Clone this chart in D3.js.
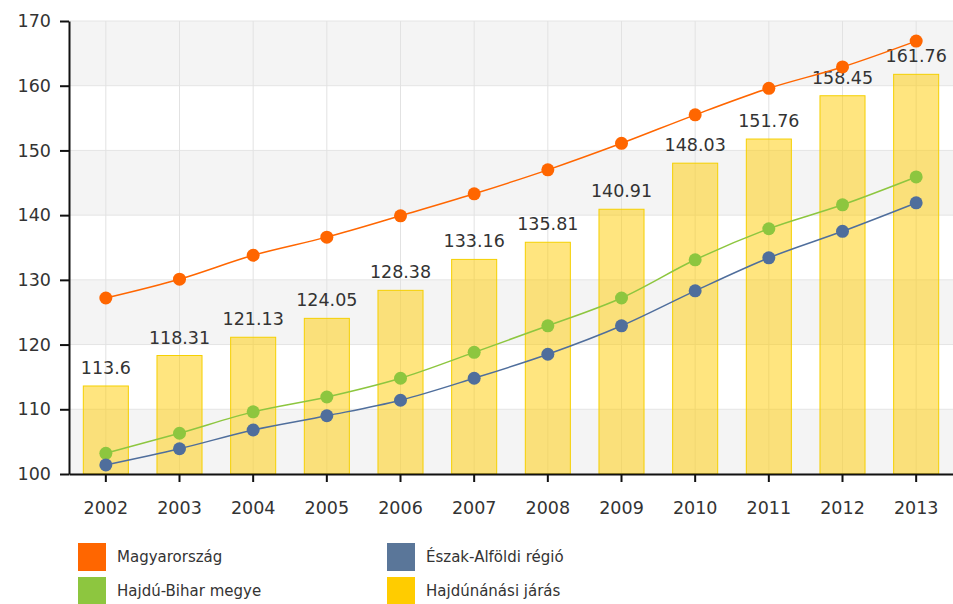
<!DOCTYPE html>
<html>
<head>
<meta charset="utf-8">
<script src="https://cdn.jsdelivr.net/npm/d3@7"></script>
<style>
  html, body { margin: 0; padding: 0; background: #fff; }
  svg { display: block; font-family: "DejaVu Sans", Verdana, sans-serif; }
</style>
</head>
<body>
<svg id="chart" width="953" height="604"></svg>
<script>
const years = ["2002","2003","2004","2005","2006","2007","2008","2009","2010","2011","2012","2013"];
const magyarorszag = [127.2,130.1,133.8,136.6,139.9,143.3,147.0,151.1,155.5,159.6,162.9,166.9];
const hajduBihar = [103.2,106.3,109.6,111.9,114.8,118.8,122.9,127.2,133.1,137.9,141.6,145.9];
const eszakAlfold = [101.4,103.9,106.8,109.0,111.4,114.8,118.5,122.9,128.3,133.4,137.5,141.9];
const hajdunanas = [113.6,118.31,121.13,124.05,128.38,133.16,135.81,140.91,148.03,151.76,158.45,161.76];
const yTicks = [100,110,120,130,140,150,160,170];
const seriesNames = ["Magyarország","Észak-Alföldi régió","Hajdú-Bihar megye","Hajdúnánási járás"];
const seriesColors = ["#ff6600","#5a7699","#8dc63f","#ffcc00"];

const svg = d3.select("#chart");
const m = {left: 69, right: 953, top: 21, bottom: 474};

const x = d3.scaleBand().domain(years).range([m.left, m.right])
  .paddingInner(0.375).paddingOuter(0.1875);
const y = d3.scaleLinear().domain([100,170]).range([m.bottom, m.top]);

// alternating bands
const bands = d3.range(yTicks.length - 1).map(i => [yTicks[i], yTicks[i+1]]);
svg.append("g").selectAll("rect").data(bands).join("rect")
  .attr("x", m.left).attr("width", m.right - m.left)
  .attr("y", d => y(d[1])).attr("height", d => y(d[0]) - y(d[1]))
  .attr("fill", (d,i) => i % 2 === 0 ? "#f4f4f4" : "#ffffff");

// horizontal grid
svg.append("g").selectAll("line").data(yTicks).join("line")
  .attr("x1", m.left).attr("x2", m.right)
  .attr("y1", d => y(d)).attr("y2", d => y(d))
  .attr("stroke", "#e4e4e4").attr("stroke-width", 1);

// vertical grid
svg.append("g").selectAll("line").data(years).join("line")
  .attr("x1", d => x(d) + x.bandwidth()/2).attr("x2", d => x(d) + x.bandwidth()/2)
  .attr("y1", m.top).attr("y2", m.bottom)
  .attr("stroke", "#e2e2e2").attr("stroke-width", 1);

// bars
svg.append("g").selectAll("rect").data(hajdunanas).join("rect")
  .attr("x", (d,i) => x(years[i]) + 0.5)
  .attr("width", x.bandwidth() - 1)
  .attr("y", d => y(d))
  .attr("height", d => y(100) - y(d))
  .attr("fill", "#ffcc00").attr("fill-opacity", 0.5)
  .attr("stroke", "#f5d000").attr("stroke-width", 1);

// bar labels
svg.append("g").selectAll("text").data(hajdunanas).join("text")
  .attr("x", (d,i) => x(years[i]) + x.bandwidth()/2)
  .attr("y", d => y(d) - 12)
  .attr("text-anchor", "middle")
  .attr("font-size", "17.5px")
  .attr("fill", "#333")
  .text(d => d);

// lines
const lineGen = d3.line()
  .x((d,i) => x(years[i]) + x.bandwidth()/2)
  .y(d => y(d))
  .curve(d3.curveMonotoneX);

const lineSeries = [
  {vals: magyarorszag, color: "#ff6600"},
  {vals: hajduBihar, color: "#8dc63f"},
  {vals: eszakAlfold, color: "#4f6e9c"}
];
lineSeries.forEach(s => {
  svg.append("path").datum(s.vals)
    .attr("d", lineGen).attr("fill", "none")
    .attr("stroke", s.color).attr("stroke-width", 1.5);
  svg.append("g").selectAll("circle").data(s.vals).join("circle")
    .attr("cx", (d,i) => x(years[i]) + x.bandwidth()/2)
    .attr("cy", d => y(d)).attr("r", 6.5)
    .attr("fill", s.color);
});

// axes
const yAxis = svg.append("g").attr("transform", `translate(${m.left},0)`)
  .call(d3.axisLeft(y).tickValues(yTicks).tickSize(9).tickPadding(9).tickSizeOuter(0));
yAxis.select(".domain").attr("stroke", "#111").attr("stroke-width", 2);
yAxis.selectAll(".tick line").attr("stroke", "#111").attr("stroke-width", 2);
yAxis.selectAll("text").attr("font-size", "17.5px").attr("fill", "#333")
  .attr("font-family", "DejaVu Sans, Verdana, sans-serif");

const xAxis = svg.append("g").attr("transform", `translate(0,${m.bottom})`)
  .call(d3.axisBottom(x).tickSize(8).tickPadding(20).tickSizeOuter(0));
xAxis.select(".domain").attr("stroke", "#111").attr("stroke-width", 2);
xAxis.selectAll(".tick line").attr("stroke", "#111").attr("stroke-width", 2);
xAxis.selectAll("text").attr("font-size", "17.5px").attr("fill", "#333")
  .attr("font-family", "DejaVu Sans, Verdana, sans-serif");

// legend
const legPos = [[78,543],[387,543],[78,577],[387,577]];
const leg = svg.append("g").selectAll("g").data(seriesNames).join("g")
  .attr("transform", (d,i) => `translate(${legPos[i][0]},${legPos[i][1]})`);
leg.append("rect").attr("width", 28).attr("height", 28)
  .attr("fill", (d,i) => seriesColors[i]);
leg.append("text").attr("x", 39).attr("y", 19)
  .attr("font-size", "15px").attr("fill", "#333")
  .text(d => d);
</script>
</body>
</html>
